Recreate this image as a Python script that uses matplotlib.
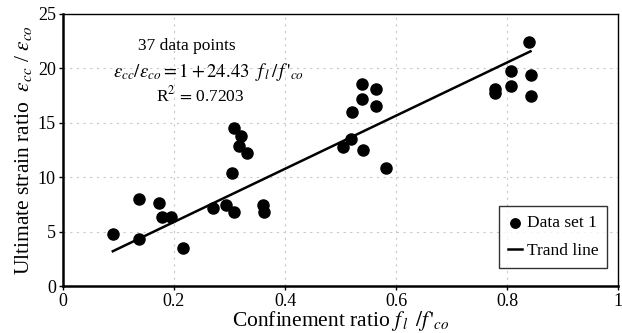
import matplotlib
matplotlib.use("Agg")
import matplotlib.pyplot as plt
import numpy as np

# Data
conf_ratio = [0.090, 0.137, 0.137, 0.173, 0.179, 0.195, 0.216, 0.270,
              0.294, 0.308, 0.305, 0.360, 0.363,
              0.308, 0.320, 0.317, 0.331,
              0.538, 0.563, 0.538, 0.563, 0.521, 0.519, 0.505, 0.540, 0.581,
              0.778, 0.778, 0.807, 0.842, 0.807, 0.842, 0.840]
strain_ratio = [4.78, 8.0, 4.29, 7.66, 6.31, 6.31, 3.49, 7.14,
                7.44, 6.83, 10.4, 7.44, 6.77,
                14.5, 13.8, 12.9, 12.25,
                18.57, 18.08, 17.16, 16.5, 15.96, 13.54, 12.75, 12.5, 10.85,
                17.75, 18.15, 19.79, 19.42, 18.38, 17.49, 22.45]
trend_a = 1.0
trend_b = 24.43
x_ticks = [0, 0.2, 0.4, 0.6, 0.8, 1]
x_tick_labels = ["0", "0.2", "0.4", "0.6", "0.8", "1"]
y_ticks = [0, 5, 10, 15, 20, 25]

plt.rcParams['font.family'] = ['Liberation Serif', 'DejaVu Serif']
plt.rcParams['mathtext.fontset'] = 'stix'

fig = plt.figure(figsize=(6.22, 3.33), dpi=100)
ax = fig.add_axes([0.101, 0.141, 0.893, 0.817])

# gridlines (faint, dotted)
for gy in y_ticks[1:-1]:
    ax.axhline(gy, color='#c8c8c8', lw=0.8, ls=(0, (2, 4)), zorder=0)
for gx in x_ticks[1:-1]:
    ax.axvline(gx, color='#c8c8c8', lw=0.8, ls=(0, (2, 4)), zorder=0)

ax.scatter(conf_ratio, strain_ratio, s=64, color='black', zorder=3,
           label='Data set 1')

xl = np.array([min(conf_ratio), max(conf_ratio)])
ax.plot(xl, trend_a + trend_b * xl, color='black', lw=1.8, zorder=2,
        label='Trand line')

ax.set_xlim(0, 1)
ax.set_ylim(0, 25)
ax.set_xticks(x_ticks)
ax.set_xticklabels(x_tick_labels)
ax.set_yticks(y_ticks)
ax.tick_params(direction='out', length=3, width=1, labelsize=13, pad=2)

for side in ['left', 'bottom']:
    ax.spines[side].set_linewidth(1.8)
for side in ['top', 'right']:
    ax.spines[side].set_linewidth(1.0)

ax.set_xlabel(r"Confinement ratio $f_{\,l}\ \,/f\,'_{co}$", fontsize=15.5, labelpad=-1)
ax.set_ylabel(r"Ultimate strain ratio  $\varepsilon_{cc}$ / $\varepsilon_{co}$",
              fontsize=15.5, labelpad=3)

ax.text(0.224, 22.06, "37 data points", fontsize=12.5, ha='center', va='center')
ax.text(0.263, 19.7, r"$\varepsilon_{cc}/\varepsilon_{co} = 1 + 24.43\ \ f_{\,l}\,/\,f\,'_{co}$",
        fontsize=13.5, ha='center', va='center')
ax.text(0.248, 17.5, r"R$^2\,{=}\,$0.7203", fontsize=12.5, ha='center', va='center')

leg = ax.legend(loc='lower right', bbox_to_anchor=(0.98, 0.066), fontsize=12.5,
                frameon=True, fancybox=False, edgecolor='black',
                handlelength=0.8, handletextpad=0.3, borderpad=0.5,
                labelspacing=0.7, markerscale=0.85, borderaxespad=0)
leg.get_frame().set_linewidth(1.0)

fig.savefig("out.png", dpi=100)
